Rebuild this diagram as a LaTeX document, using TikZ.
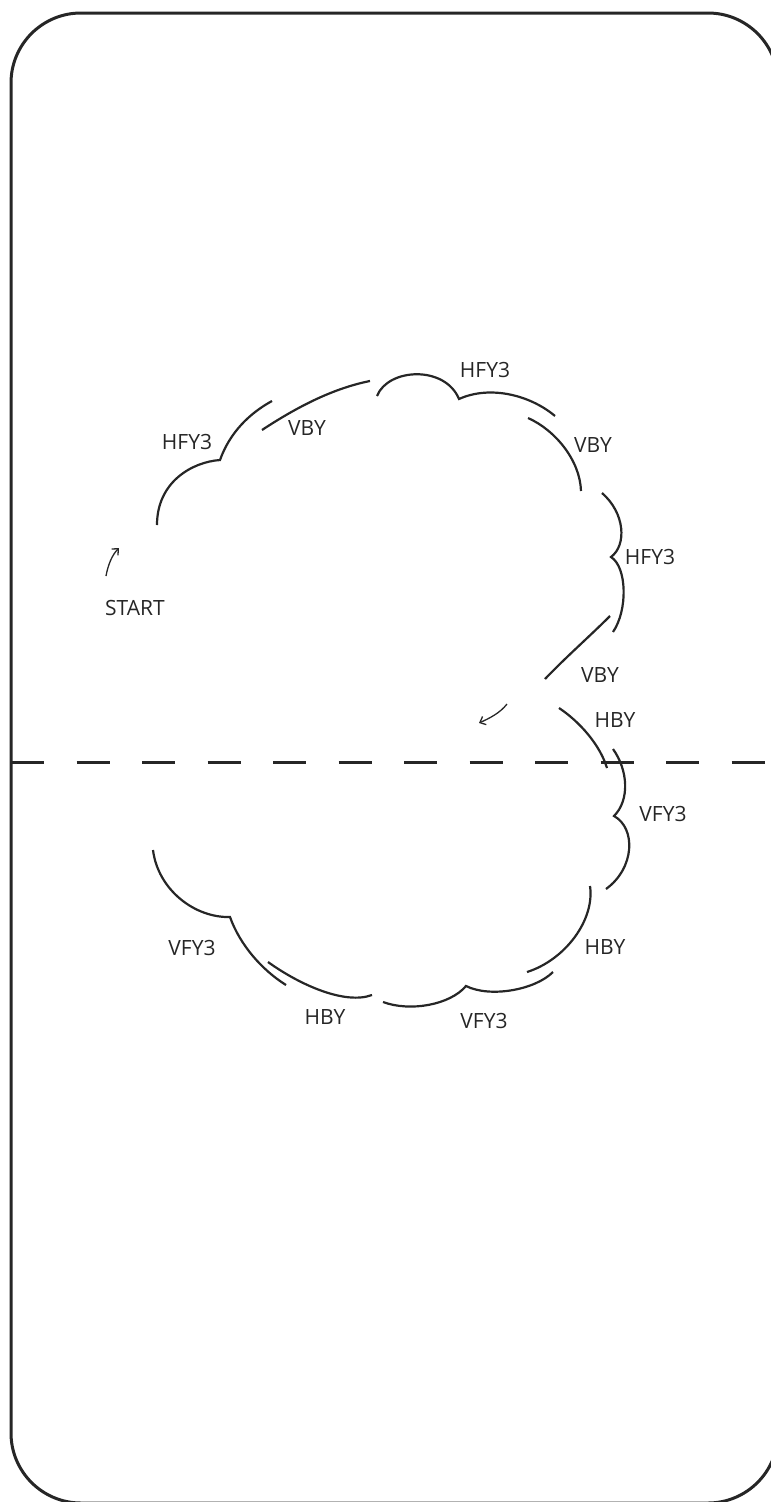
\documentclass[tikz,border=0pt]{standalone}
\usepackage{fontspec}
\setmainfont{Open Sans}
\usetikzlibrary{arrows.meta}
\begin{document}
\begin{tikzpicture}[x=1pt,y=-1pt,
  cloud/.style={line width=2.2pt,draw=black!85},
  lbl/.style={font=\fontsize{21}{24}\selectfont,text=black!85,inner sep=0pt},
  frame/.style={line width=3pt,draw=black!85,rounded corners=70pt},
  divider/.style={line width=3pt,draw=black!85,dash pattern=on 33pt off 32.5pt},
  hint/.style={line width=1.3pt,draw=black!85,-{Straight Barb[length=5pt,width=9pt]}}]
\useasboundingbox (0,0) rectangle (771,1502);
\clip (0,0) rectangle (771,1502);
\draw[frame] (11,13) rectangle (778,1503);
\draw[divider] (11,762) -- (790,762);
% upper cloud
\draw[cloud] (157,525) .. controls (157,482) and (192,462) .. (220,460)
             .. controls (230,432) and (250,413) .. (272,401);
\draw[cloud] (262,430) .. controls (300,405) and (335,388) .. (370,381);
\draw[cloud] (377,396) .. controls (388,368) and (445,365) .. (459,399)
             .. controls (490,385) and (530,395) .. (555,416);
\draw[cloud] (528,418) .. controls (555,430) and (580,460) .. (581,491);
\draw[cloud] (602,493) .. controls (625,513) and (627,545) .. (611,557)
             .. controls (627,567) and (628,610) .. (613,632);
\draw[cloud] (610,616) .. controls (590,636) and (565,658) .. (545,679);
\draw[cloud] (559,708) .. controls (580,722) and (600,745) .. (607,768);
% lower cloud
\draw[cloud] (613,749) .. controls (628,770) and (630,800) .. (614,816)
             .. controls (636,828) and (635,868) .. (606,889);
\draw[cloud] (590,886) .. controls (595,920) and (565,960) .. (527,972);
\draw[cloud] (553,972) .. controls (535,990) and (490,998) .. (466,986)
             .. controls (450,1005) and (410,1012) .. (383,1002);
\draw[cloud] (268,962) .. controls (300,985) and (345,1005) .. (372,995);
\draw[cloud] (153,850) .. controls (158,890) and (195,918) .. (230,917)
             .. controls (240,945) and (262,970) .. (286,985);
% hints
\coordinate (s1) at (106,576);
\coordinate (s2) at (119,548);
\draw[hint] (s1) .. controls (108,565) and (112,555) .. (s2);
\coordinate (e1) at (507,704);
\coordinate (e2) at (479,723);
\draw[hint] (e1) .. controls (500,713) and (490,718) .. (e2);
% labels
\node[lbl] (l1) at (187,442) {HFY3};
\node[lbl] (l2) at (307,428) {VBY};
\node[lbl] (l3) at (485,370) {HFY3};
\node[lbl] (l4) at (593,445) {VBY};
\node[lbl] (l5) at (650,557) {HFY3};
\node[lbl] (l6) at (600,675) {VBY};
\node[lbl] (l7) at (615,720) {HBY};
\node[lbl] (l8) at (663,814) {VFY3};
\node[lbl] (l9) at (605,947) {HBY};
\node[lbl] (l10) at (484,1021) {VFY3};
\node[lbl] (l11) at (325,1017) {HBY};
\node[lbl] (l12) at (192,948) {VFY3};
\node[lbl] (start) at (135,608) {START};
\end{tikzpicture}
\end{document}
